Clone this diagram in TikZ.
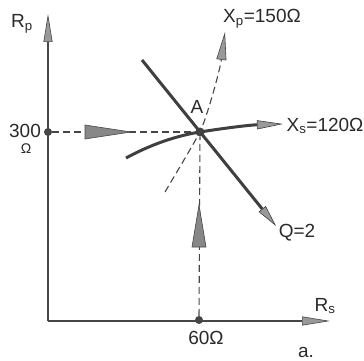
\documentclass[tikz,border=0pt]{standalone}
\usepackage{fontspec}
\setmainfont{Liberation Sans}
\usetikzlibrary{arrows.meta}
\definecolor{pencil}{RGB}{70,70,70}

\begin{document}
\begin{tikzpicture}[
    x=1pt, y=-1pt,
    every node/.style={font=\fontsize{19}{21}\selectfont, text=pencil!60!black, inner sep=1pt},
    axis/.style={draw=pencil, line width=1.6pt,
                 -{Triangle[length=28pt, width=9pt, fill=pencil!55, line width=0.6pt]}},
    dashline/.style={draw=pencil, line width=1.1pt, dash pattern=on 7pt off 4pt},
    curve/.style={draw=pencil!90!black, line width=3pt,
                  -{Triangle[length=26pt, width=9pt, fill=pencil!55, line width=0.6pt]}},
    wedge/.style={draw=pencil, fill=pencil!65, line width=0.6pt},
    dot/.style={circle, fill=pencil, inner sep=0pt, minimum size=8pt}
]
    \useasboundingbox (0,0) rectangle (364,361);

    % Axes
    \coordinate (O) at (48,321);
    \coordinate (ytip) at (48,14);
    \coordinate (xtip) at (330,321);
    \draw[axis] (O) -- (ytip);
    \draw[axis] (O) -- (xtip);
    \node (lrp) at (22,24) {R\textsubscript{p}};
    \node (lrs) at (325,306) {R\textsubscript{s}};

    % Operating point and its projections
    \node[dot] (rp) at (48,132) {};
    \node[dot] (rs) at (199,320) {};
    \node[dot, minimum size=9pt] (A) at (200,132) {};
    \node (lA) at (197,107) {A};
    \node (l300) at (25,131) {300};
    \node[font=\fontsize{14}{15}\selectfont] (lohm) at (26,149) {Ω};
    \node (l60) at (206,338) {60Ω};

    \draw[dashline] (rp) -- (A);
    \draw[dashline] (rs) -- (A);
    \filldraw[wedge] (85,125) -- (131,132) -- (85,139) -- cycle;
    \filldraw[wedge] (192,247) -- (199,205) -- (206,247) -- cycle;

    % Q = 2 line
    \coordinate (q0) at (142,60);
    \coordinate (q1) at (276,226);
    \draw[curve, -{Triangle[length=22pt, width=9pt, fill=pencil!55, line width=0.6pt]}] (q0) -- (q1);
    \node (lq) at (297,233) {Q=2};

    % Xs curve
    \coordinate (s0) at (126,158);
    \coordinate (s1) at (283,124);
    \draw[curve] (s0) .. controls (150,145) and (175,136) .. (A.center)
        .. controls (225,128) and (250,125) .. (s1);
    \node (lxs) at (325,126) {X\textsubscript{s}=120Ω};

    % Xp curve
    \coordinate (p0) at (165,192);
    \coordinate (p1) at (225,32);
    \draw[dashline, -{Triangle[length=28pt, width=10pt, fill=pencil!55, line width=0.6pt]}]
        (p0) .. controls (178,170) and (193,145) .. (A.center)
        .. controls (207,117) and (220,70) .. (p1);
    \node (lxp) at (262,19) {X\textsubscript{p}=150Ω};

    \node (la) at (306,352) {a.};
\end{tikzpicture}
\end{document}
